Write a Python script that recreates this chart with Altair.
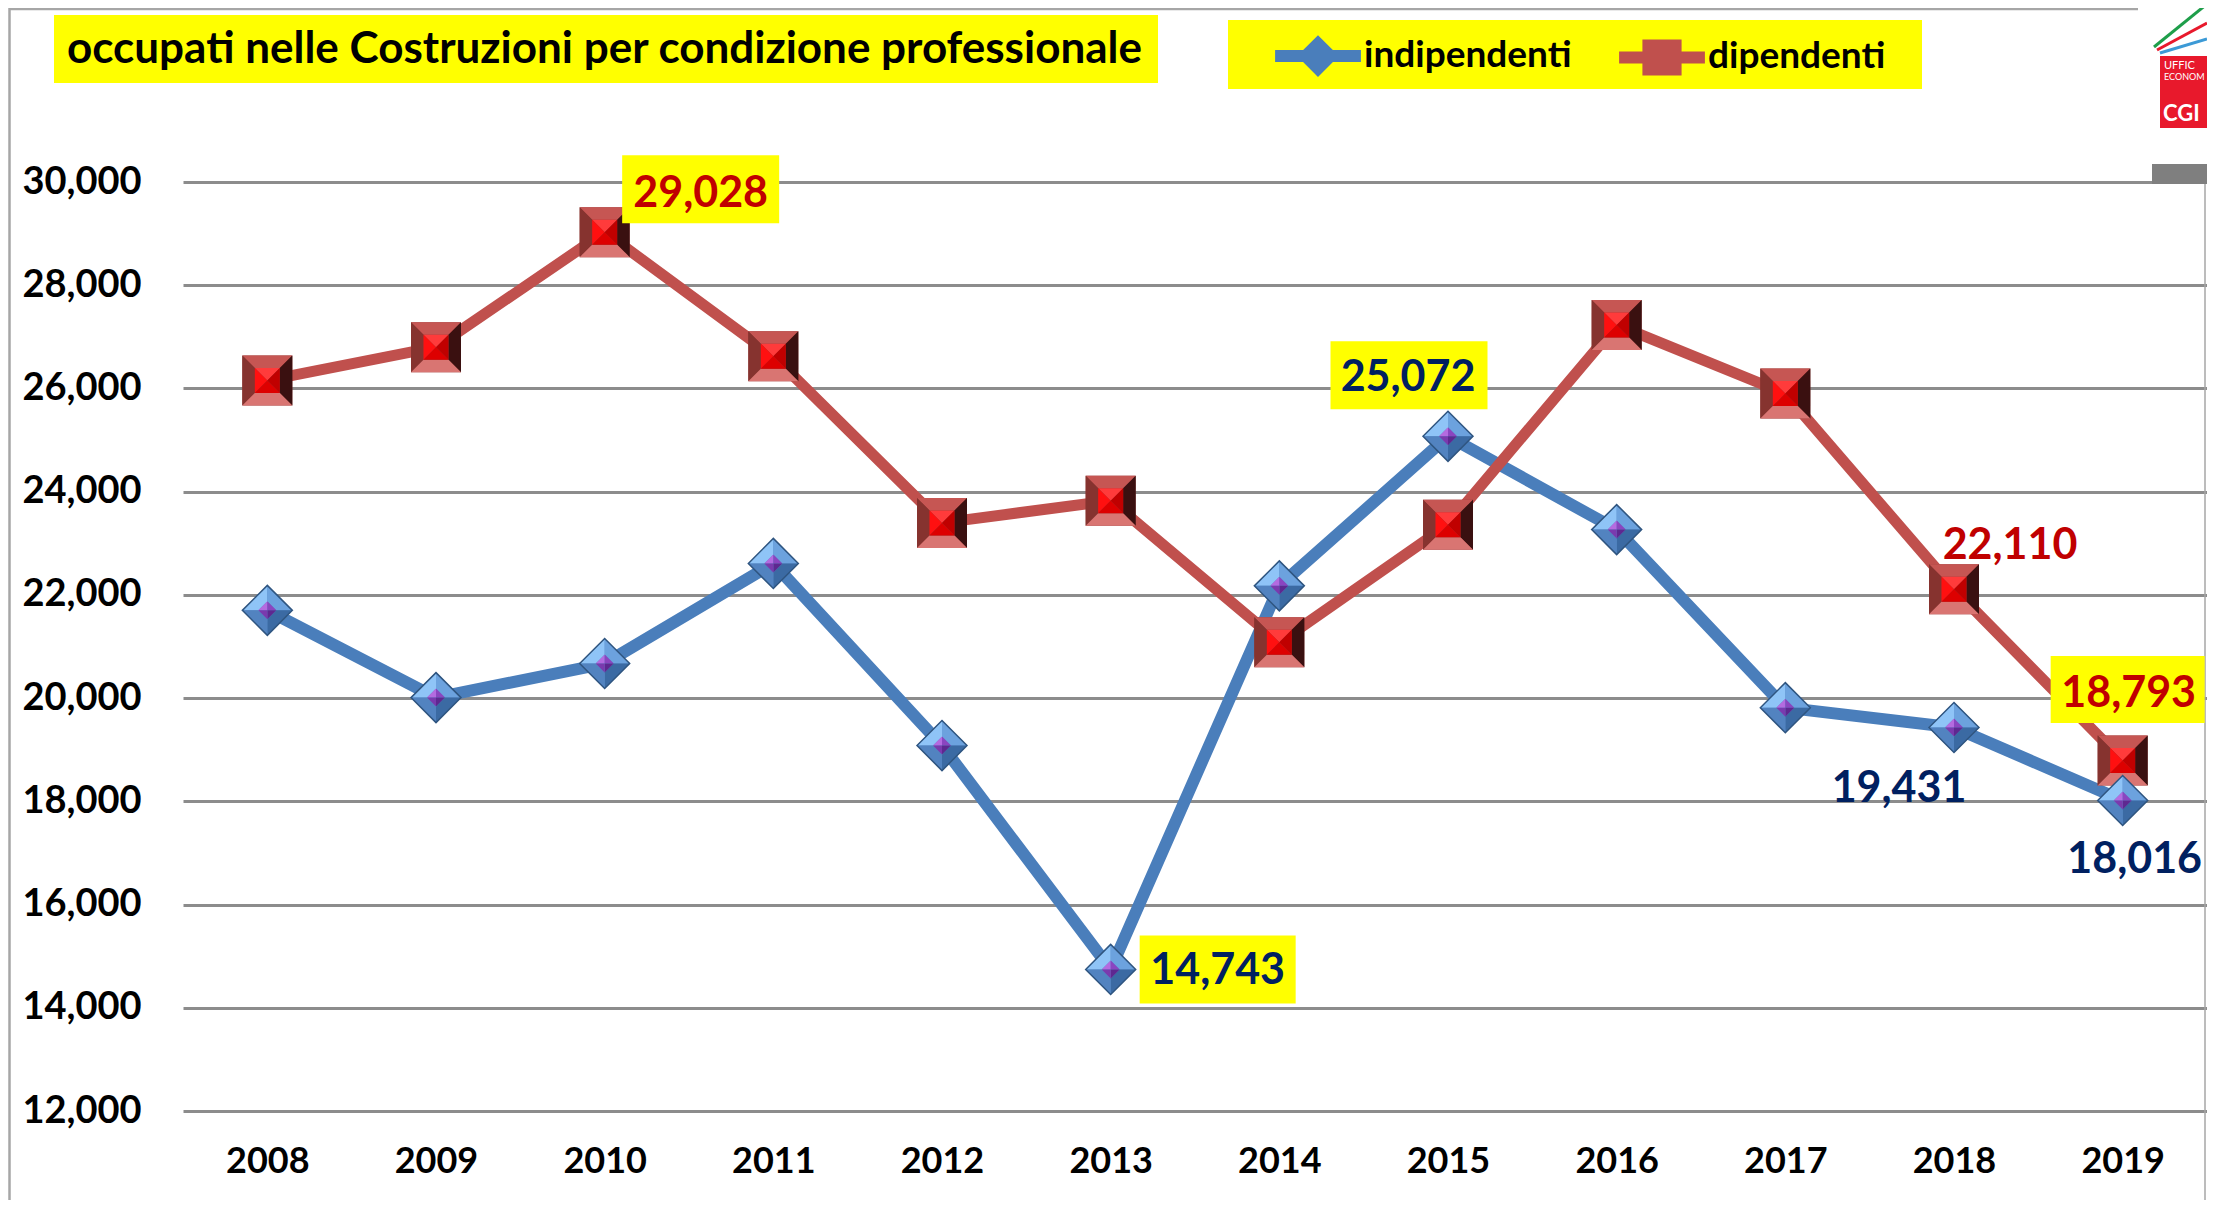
import altair as alt
import pandas as pd

# ---------------- data ----------------
years = ["2008", "2009", "2010", "2011", "2012", "2013",
         "2014", "2015", "2016", "2017", "2018", "2019"]
indipendenti = [21700, 20010, 20670, 22610, 19080, 14743,
                22175, 25072, 23265, 19815, 19431, 18016]
dipendenti = [26155, 26800, 29028, 26625, 23395, 23825,
              21080, 23360, 27230, 25900, 22110, 18793]
series_names = ["indipendenti", "dipendenti"]
y_ticks = [12000, 14000, 16000, 18000, 20000, 22000, 24000, 26000, 28000, 30000]
title_text = "occupati nelle Costruzioni per condizione professionale"

rows = []
for yr, a, b in zip(years, indipendenti, dipendenti):
    rows.append({"year": yr, "series": "indipendenti", "value": a})
    rows.append({"year": yr, "series": "dipendenti", "value": b})
df = pd.DataFrame(rows)

FONT = "Lato"
BLUE = "#4A7EBB"
RED = "#C0504D"
YELLOW = "#FFFF00"
NAVY = "#002060"
DRED = "#C00000"

X = alt.X("year:O",
          scale=alt.Scale(type="point", padding=0.5),
          axis=alt.Axis(labelAngle=0, ticks=False, domain=False, grid=False,
                        labelFont=FONT, labelFontWeight="bold", labelFontSize=36,
                        labelColor="black", labelPadding=50, labelBaseline="middle"),
          title=None)
Y = alt.Y("value:Q",
          scale=alt.Scale(domain=[12000, 30000], nice=False, zero=False),
          axis=alt.Axis(values=y_ticks, format=",d", ticks=False, domain=False,
                        grid=True, gridColor="#8C8C8C", gridWidth=3,
                        labelFont=FONT, labelFontWeight="bold", labelFontSize=38,
                        labelColor="black", labelPadding=42),
          title=None)


def series_chart(name):
    return alt.Chart(df).transform_filter(alt.datum.series == name)


# ---------------- lines ----------------
line_ind = series_chart("indipendenti").mark_line(
    color=BLUE, strokeWidth=12, strokeCap="round", strokeJoin="round").encode(x=X, y=Y)
line_dip = series_chart("dipendenti").mark_line(
    color=RED, strokeWidth=11, strokeCap="round", strokeJoin="round").encode(x=X, y=Y)


# ---------------- bevelled markers ----------------
def facet(name, path, size, color):
    return series_chart(name).mark_point(
        shape=path, size=size, filled=True, color=color, opacity=1, strokeWidth=0
    ).encode(x=X, y=Y)


r = 0.36
diamond_facets = [
    ("diamond", "#5A8CC8"),
    (f"M -1 0 L 0 -1 L 0 -{r} L -{r} 0 Z", "#8FC4F7"),
    (f"M 0 -1 L 1 0 L {r} 0 L 0 -{r} Z", "#6CA2DE"),
    (f"M 1 0 L 0 1 L 0 {r} L {r} 0 Z", "#3B6AA3"),
    (f"M 0 1 L -1 0 L -{r} 0 L 0 {r} Z", "#5283C0"),
    (f"M -{r} 0 L 0 -{r} L 0 0 Z", "#B46BE0"),
    (f"M 0 -{r} L {r} 0 L 0 0 Z", "#8A45C0"),
    (f"M {r} 0 L 0 {r} L 0 0 Z", "#5E2890"),
    (f"M 0 {r} L -{r} 0 L 0 0 Z", "#7A3AAE"),
]
square_facets = [
    ("square", "#8E3835"),
    ("M -1 -1 L 1 -1 L 0.5 -0.5 L -0.5 -0.5 Z", "#C65653"),
    ("M -1 -1 L -0.5 -0.5 L -0.5 0.5 L -1 1 Z", "#86332F"),
    ("M 1 -1 L 1 1 L 0.5 0.5 L 0.5 -0.5 Z", "#3A1010"),
    ("M -1 1 L -0.5 0.5 L 0.5 0.5 L 1 1 Z", "#D97572"),
    ("M -0.5 -0.5 L 0.5 -0.5 L 0 0 Z", "#FF3B3B"),
    ("M -0.5 -0.5 L 0 0 L -0.5 0.5 Z", "#FF1010"),
    ("M 0.5 -0.5 L 0.5 0.5 L 0 0 Z", "#C00000"),
    ("M -0.5 0.5 L 0 0 L 0.5 0.5 Z", "#DD0000"),
]
DSIZE = 2500
SSIZE = 2500
markers_dip = [facet("dipendenti", p, SSIZE, c) for p, c in square_facets]
markers_ind = [facet("indipendenti", p, DSIZE, c) for p, c in diamond_facets]
outline_ind = series_chart("indipendenti").mark_point(
    shape="diamond", size=DSIZE, filled=False, color="#2F5580", strokeWidth=1.5, opacity=1
).encode(x=X, y=Y)

# ---------------- legend (real Vega legend) ----------------
leg_d = ("M -1.95 -0.27 L 1.95 -0.27 L 1.95 0.27 L -1.95 0.27 Z "
         "M 0 -0.95 L 0.95 0 L 0 0.95 L -0.95 0 Z")
leg_s = ("M -1.95 -0.27 L 1.95 -0.27 L 1.95 0.27 L -1.95 0.27 Z "
         "M -0.89 -0.82 L 0.89 -0.82 L 0.89 0.82 L -0.89 0.82 Z")
LEG = alt.Legend(orient="none", legendX=1113, legendY=-148, direction="horizontal",
                 title=None, labelFont=FONT, labelFontWeight="bold", labelFontSize=37,
                 labelColor="black", symbolSize=1936, symbolStrokeWidth=0,
                 labelOffset=24, columnPadding=47, padding=0, labelLimit=0)
legend_layer = alt.Chart(df).transform_filter("false").mark_point(
    filled=True, opacity=1, size=1936
).encode(
    x=X, y=Y,
    color=alt.Color("series:N", scale=alt.Scale(domain=series_names, range=[BLUE, RED]), legend=LEG),
    shape=alt.Shape("series:N", scale=alt.Scale(domain=series_names, range=[leg_d, leg_s]), legend=LEG),
)


# ---------------- data labels ----------------
def rect_path(w, h):
    k = round(h / w, 4)
    return f"M -1 -{k} L 1 -{k} L 1 {k} L -1 {k} Z"


def point_of(name, yr):
    return alt.Chart(df).transform_filter(
        (alt.datum.series == name) & (alt.datum.year == yr))


def label_box(name, yr, dx, dy, w, h):
    return point_of(name, yr).mark_point(
        shape=rect_path(w, h), size=w * w, filled=True, color=YELLOW, opacity=1,
        strokeWidth=0, xOffset=dx, yOffset=dy
    ).encode(x=X, y=Y)


def label_text(name, yr, dx, dy, color):
    return point_of(name, yr).mark_text(
        font=FONT, fontWeight="bold", fontSize=43, color=color,
        align="center", baseline="middle", dx=dx, dy=dy
    ).encode(x=X, y=Y, text=alt.Text("value:Q", format=",d"))


boxes = [
    label_box("dipendenti", "2010", 96, -43, 157, 68),
    label_box("indipendenti", "2015", -39, -61, 157, 68),
    label_box("indipendenti", "2013", 107, 0, 156, 68),
    label_box("dipendenti", "2019", 5, -71, 154, 67),
]
texts = [
    label_text("dipendenti", "2010", 96, -38, DRED),
    label_text("indipendenti", "2015", -40, -58, NAVY),
    label_text("indipendenti", "2013", 107, 2, NAVY),
    label_text("dipendenti", "2019", 6, -66, DRED),
    label_text("dipendenti", "2018", 56, -43, DRED),
    label_text("indipendenti", "2018", -55, 62, NAVY),
    label_text("indipendenti", "2019", 12, 59, NAVY),
]

# ---------------- decorations (chart frame, title box, logo) ----------------
deco = alt.Chart(pd.DataFrame({"k": [0]}))


def drect(x1, y1, x2, y2, color):
    return deco.mark_rect(color=color, opacity=1).encode(
        x=alt.value(x1), x2=alt.value(x2), y=alt.value(y1), y2=alt.value(y2))


def drule(x1, y1, x2, y2, color, w):
    return deco.mark_rule(color=color, strokeWidth=w).encode(
        x=alt.value(x1), x2=alt.value(x2), y=alt.value(y1), y2=alt.value(y2))


def dtext(x, y, s, size, color, weight="bold", align="left", baseline="alphabetic"):
    return deco.mark_text(font=FONT, fontSize=size, fontWeight=weight, color=color,
                          align=align, baseline=baseline).encode(
        x=alt.value(x), y=alt.value(y), text=alt.value(s))


decorations = [
    drule(-173.5, -174, -173.5, 1018, "#A6A6A6", 2.5),
    drule(-173.5, -173, 1955, -173, "#A6A6A6", 2.5),
    drule(2022, -18, 2022, 1018, "#A6A6A6", 1.5),
    drect(1969, -18, 2024, 2, "#7F7F7F"),
    drect(-129, -167, 975, -99, YELLOW),
    drect(1045, -162, 1739, -93, YELLOW),
    dtext(-116, -119, title_text, 44, "black"),
    # logo (CGIL Ufficio Economico)
    drule(1971, -135, 2024, -178, "#1E9E4A", 3),
    drule(1974, -132, 2024, -159, "#E8192C", 3),
    drule(1977, -129, 2024, -143, "#3C9AD6", 3),
    drect(1977, -126, 2024, -54, "#E8192C"),
    dtext(1981, -113, "UFFIC", 11, "white", weight="normal"),
    dtext(1981, -102, "ECONOM", 9, "white", weight="normal"),
    dtext(1980, -61, "CGI", 22, "white"),
]

chart = alt.layer(
    *decorations,
    line_ind, line_dip,
    *markers_dip,
    *markers_ind, outline_ind,
    legend_layer,
    *boxes, *texts,
).properties(
    width=2024, height=929,
    autosize=alt.AutoSizeParams(type="none"),
    padding={"left": 175, "top": 174, "right": 0, "bottom": 89},
    background="white",
).configure_view(stroke=None)

chart.save("out.html", embed_options={"renderer": "svg", "actions": False})
